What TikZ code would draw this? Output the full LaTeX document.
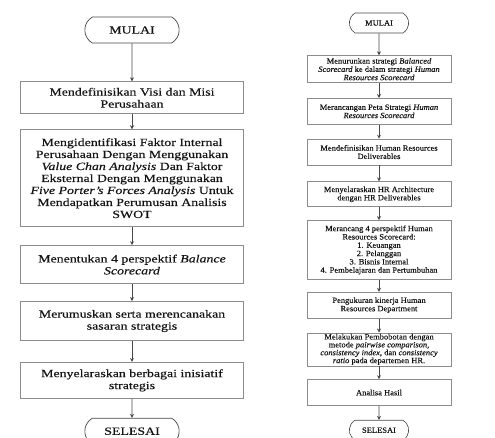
\documentclass[tikz,border=0pt]{standalone}
\usepackage{fontspec}
\newfontfamily\lfont[FakeStretch=1.26,FakeBold=0.3]{Liberation Serif}
\newfontfamily\rfont[FakeStretch=1.06,FakeBold=0.2]{Liberation Serif}
\usetikzlibrary{positioning,arrows.meta,shapes.misc}
\definecolor{edge}{HTML}{8C8C8C}
\definecolor{wire}{HTML}{474747}
\definecolor{ink}{HTML}{141414}

\begin{document}
\begin{tikzpicture}[
  lb/.style={draw=edge,line width=0.9pt,minimum width=223pt,inner sep=1pt,text=ink,align=center,font=\lfont\fontsize{11}{12}\selectfont},
  rb/.style={draw=edge,line width=0.7pt,minimum width=144pt,inner sep=0.5pt,text=ink,align=center,font=\rfont\fontsize{8}{8.3}\selectfont},
  lt/.style={rounded rectangle,rounded rectangle arc length=120,draw=wire,line width=0.7pt,minimum width=101pt,minimum height=26pt,text=ink,font=\lfont\fontsize{11}{12}\selectfont},
  rt/.style={rounded rectangle,rounded rectangle arc length=120,draw=wire,line width=0.6pt,minimum width=66pt,minimum height=20pt,text=ink,font=\rfont\fontsize{8}{8.3}\selectfont},
  ar/.style={draw=wire,line width=0.7pt,-{Stealth[length=4pt,width=4pt]}}]
\useasboundingbox (0,0) rectangle (495pt,-437pt);
% left flow
\node[lt] (mulai) at (132pt,-30pt) {MULAI};
\node[lb,minimum height=32pt,below=38pt of mulai] (visi) {Mendefinisikan Visi dan Misi\\Perusahaan};
\node[lb,minimum height=97pt,below=15pt of visi] (faktor) {Mengidentifikasi Faktor Internal\\Perusahaan Dengan Menggunakan\\\textit{Value Chan Analysis} Dan Faktor\\Eksternal Dengan Menggunakan\\\textit{Five Porter’s Forces Analysis} Untuk\\Mendapatkan Perumusan Analisis\\SWOT};
\node[lb,minimum height=38pt,below=18pt of faktor] (bsc) {Menentukan 4 perspektif \textit{Balance}\\\textit{Scorecard}};
\node[lb,minimum height=39pt,below=17pt of bsc] (sasaran) {Merumuskan serta merencanakan\\sasaran strategis};
\node[lb,minimum height=36pt,below=21pt of sasaran] (inisiatif) {Menyelaraskan berbagai inisiatif\\strategis};
\node[lt,below=19pt of inisiatif] (selesai) {SELESAI};
% right flow
\node[rt] (mulaiR) at (379pt,-23pt) {MULAI};
\node[rb,minimum height=27pt,below=22pt of mulaiR] (turun) {Menurunkan strategi \textit{Balanced}\\\textit{Scorecard} ke dalam strategi \textit{Human}\\\textit{Resources Scorecard}};
\node[rb,minimum height=26pt,below=15pt of turun] (peta) {Merancangan Peta Strategi \textit{Human}\\\textit{Resources Scorecard}};
\node[rb,minimum height=26pt,below=14pt of peta] (deliv) {Mendefinisikan Human Resources\\Deliverables};
\node[rb,minimum height=25pt,below=16pt of deliv] (arch) {Menyelaraskan HR Architecture\\dengan HR Deliverables};
\node[rb,minimum height=59pt,below=13pt of arch] (persp) {Merancang 4 perspektif Human\\Resources Scorecard:\\1. Keuangan\\2. Pelanggan\\3. Bisnis Internal\\4. Pembelajaran dan Pertumbuhan};
\node[rb,minimum height=26pt,below=12pt of persp] (ukur) {Pengukuran kinerja Human\\Resources Department};
\node[rb,minimum height=33pt,below=14pt of ukur,font=\rfont\fontsize{8}{7.9}\selectfont] (bobot) {Melakukan Pembobotan dengan\\metode \textit{pairwise comparison,}\\\textit{consistency index}, dan \textit{consistency}\\\textit{ratio} pada departemen HR.};
\node[rb,minimum height=26pt,below=13pt of bobot] (hasil) {Analisa Hasil};
\node[rt,below=14pt of hasil] (selesaiR) {SELESAI};
% connectors
\foreach \a/\b in {mulai/visi,visi/faktor,faktor/bsc,bsc/sasaran,sasaran/inisiatif,inisiatif/selesai,
  mulaiR/turun,turun/peta,peta/deliv,deliv/arch,arch/persp,persp/ukur,ukur/bobot,bobot/hasil,hasil/selesaiR}
  \draw[ar] (\a) -- (\b);
\end{tikzpicture}
\end{document}
